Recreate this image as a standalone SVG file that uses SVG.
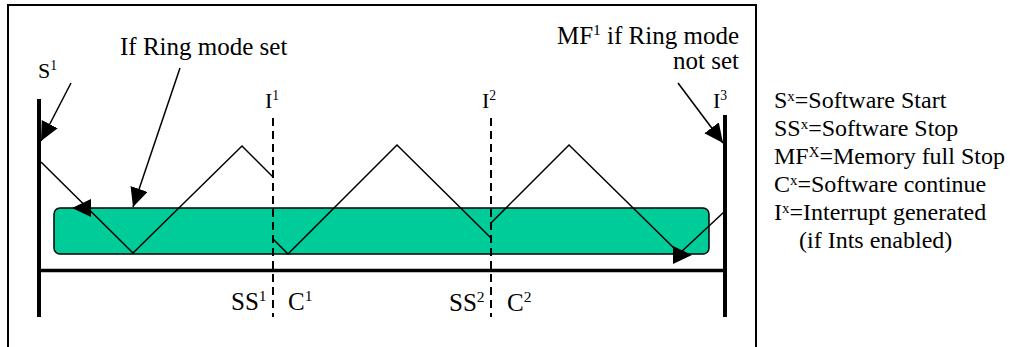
<svg xmlns="http://www.w3.org/2000/svg" xmlns:xlink="http://www.w3.org/1999/xlink" width="1025" height="347" viewBox="0 0 1025 347">
<style>
text{font-family:"Liberation Serif","Times New Roman",serif;fill:#000}
.lbl{font-size:22px}
.big{font-size:25px}
.leg{font-size:24px}
.sup{font-size:62%}
.thin{fill:none;stroke:#000;stroke-width:1.5;stroke-linejoin:miter}
.thick{fill:none;stroke:#000;stroke-width:4}
.dash{fill:none;stroke:#000;stroke-width:2;stroke-dasharray:8 5}
.ptr{fill:none;stroke:#000;stroke-width:1.5;marker-end:url(#arr)}
</style>
<defs>
<marker id="arr" markerUnits="userSpaceOnUse" markerWidth="21" markerHeight="19" refX="19" refY="9" orient="auto">
<path d="M0,0 L19,9 L0,18 Z" fill="#000"/>
</marker>
<path id="ahead" d="M0,0 L-19,-9 L-19,9 Z" fill="#000"/>
</defs>
<rect x="8" y="5" width="748" height="360" fill="none" stroke="#000" stroke-width="2"/>
<g id="buffer">
<rect x="54" y="208" width="655" height="46" rx="6" fill="#00CC99" stroke="#000" stroke-width="1.5"/>
</g>
<g id="axes">
<line class="thick" x1="39" y1="99" x2="39" y2="317"/>
<line class="thick" x1="725" y1="115" x2="725" y2="317"/>
<line x1="39" y1="270.5" x2="725" y2="270.5" stroke="#000" stroke-width="3.5"/>
</g>
<g id="markers">
<line class="dash" x1="273" y1="118" x2="273" y2="317"/>
<line class="dash" x1="491" y1="118" x2="491" y2="317"/>
</g>
<g id="connectors">
<polyline class="thin" points="41,162 133,253 242,146 273,177"/>
<polyline class="thin" points="273,239 288,254 397,145 491,238"/>
<polyline class="thin" points="491,223 569,145 680,254"/>
<line class="thin" x1="724" y1="212" x2="680" y2="253"/>
<use xlink:href="#ahead" transform="translate(692,255)"/>
<use xlink:href="#ahead" transform="translate(72,208) rotate(180)"/>
<line class="ptr" x1="71" y1="83" x2="41" y2="141"/>
<line class="ptr" x1="180" y1="68" x2="133" y2="207"/>
<line class="ptr" x1="678" y1="83" x2="723" y2="143"/>
</g>
<g id="labels">
<text class="lbl" x="38" y="78">S<tspan class="sup" dy="-8">1</tspan></text>
<text class="big" x="120" y="55">If Ring mode set</text>
<text class="lbl" x="265" y="108">I<tspan class="sup" dy="-8">1</tspan></text>
<text class="lbl" x="482" y="108">I<tspan class="sup" dy="-8">2</tspan></text>
<text class="lbl" x="713" y="108">I<tspan class="sup" dy="-8">3</tspan></text>
<text class="big" x="739" y="44" text-anchor="end">MF<tspan class="sup" dy="-9">1</tspan><tspan dy="9"> if Ring mode</tspan></text>
<text class="big" x="739" y="69" text-anchor="end">not set</text>
<text class="big" x="231" y="310">SS<tspan class="sup" dy="-9">1</tspan></text>
<text class="big" x="288" y="310">C<tspan class="sup" dy="-9">1</tspan></text>
<text class="big" x="449" y="311">SS<tspan class="sup" dy="-9">2</tspan></text>
<text class="big" x="507" y="311">C<tspan class="sup" dy="-9">2</tspan></text>
</g>
<g id="legend">
<text class="leg" x="774" y="108">S<tspan class="sup" dy="-7">x</tspan><tspan dy="7">=Software Start</tspan></text>
<text class="leg" x="774" y="136">SS<tspan class="sup" dy="-7">x</tspan><tspan dy="7">=Software Stop</tspan></text>
<text class="leg" x="774" y="164">MF<tspan class="sup" dy="-7">X</tspan><tspan dy="7">=Memory full Stop</tspan></text>
<text class="leg" x="774" y="192">C<tspan class="sup" dy="-7">x</tspan><tspan dy="7">=Software continue</tspan></text>
<text class="leg" x="774" y="220">I<tspan class="sup" dy="-7">x</tspan><tspan dy="7">=Interrupt generated</tspan></text>
<text class="leg" x="799" y="248">(if Ints enabled)</text>
</g>
</svg>
